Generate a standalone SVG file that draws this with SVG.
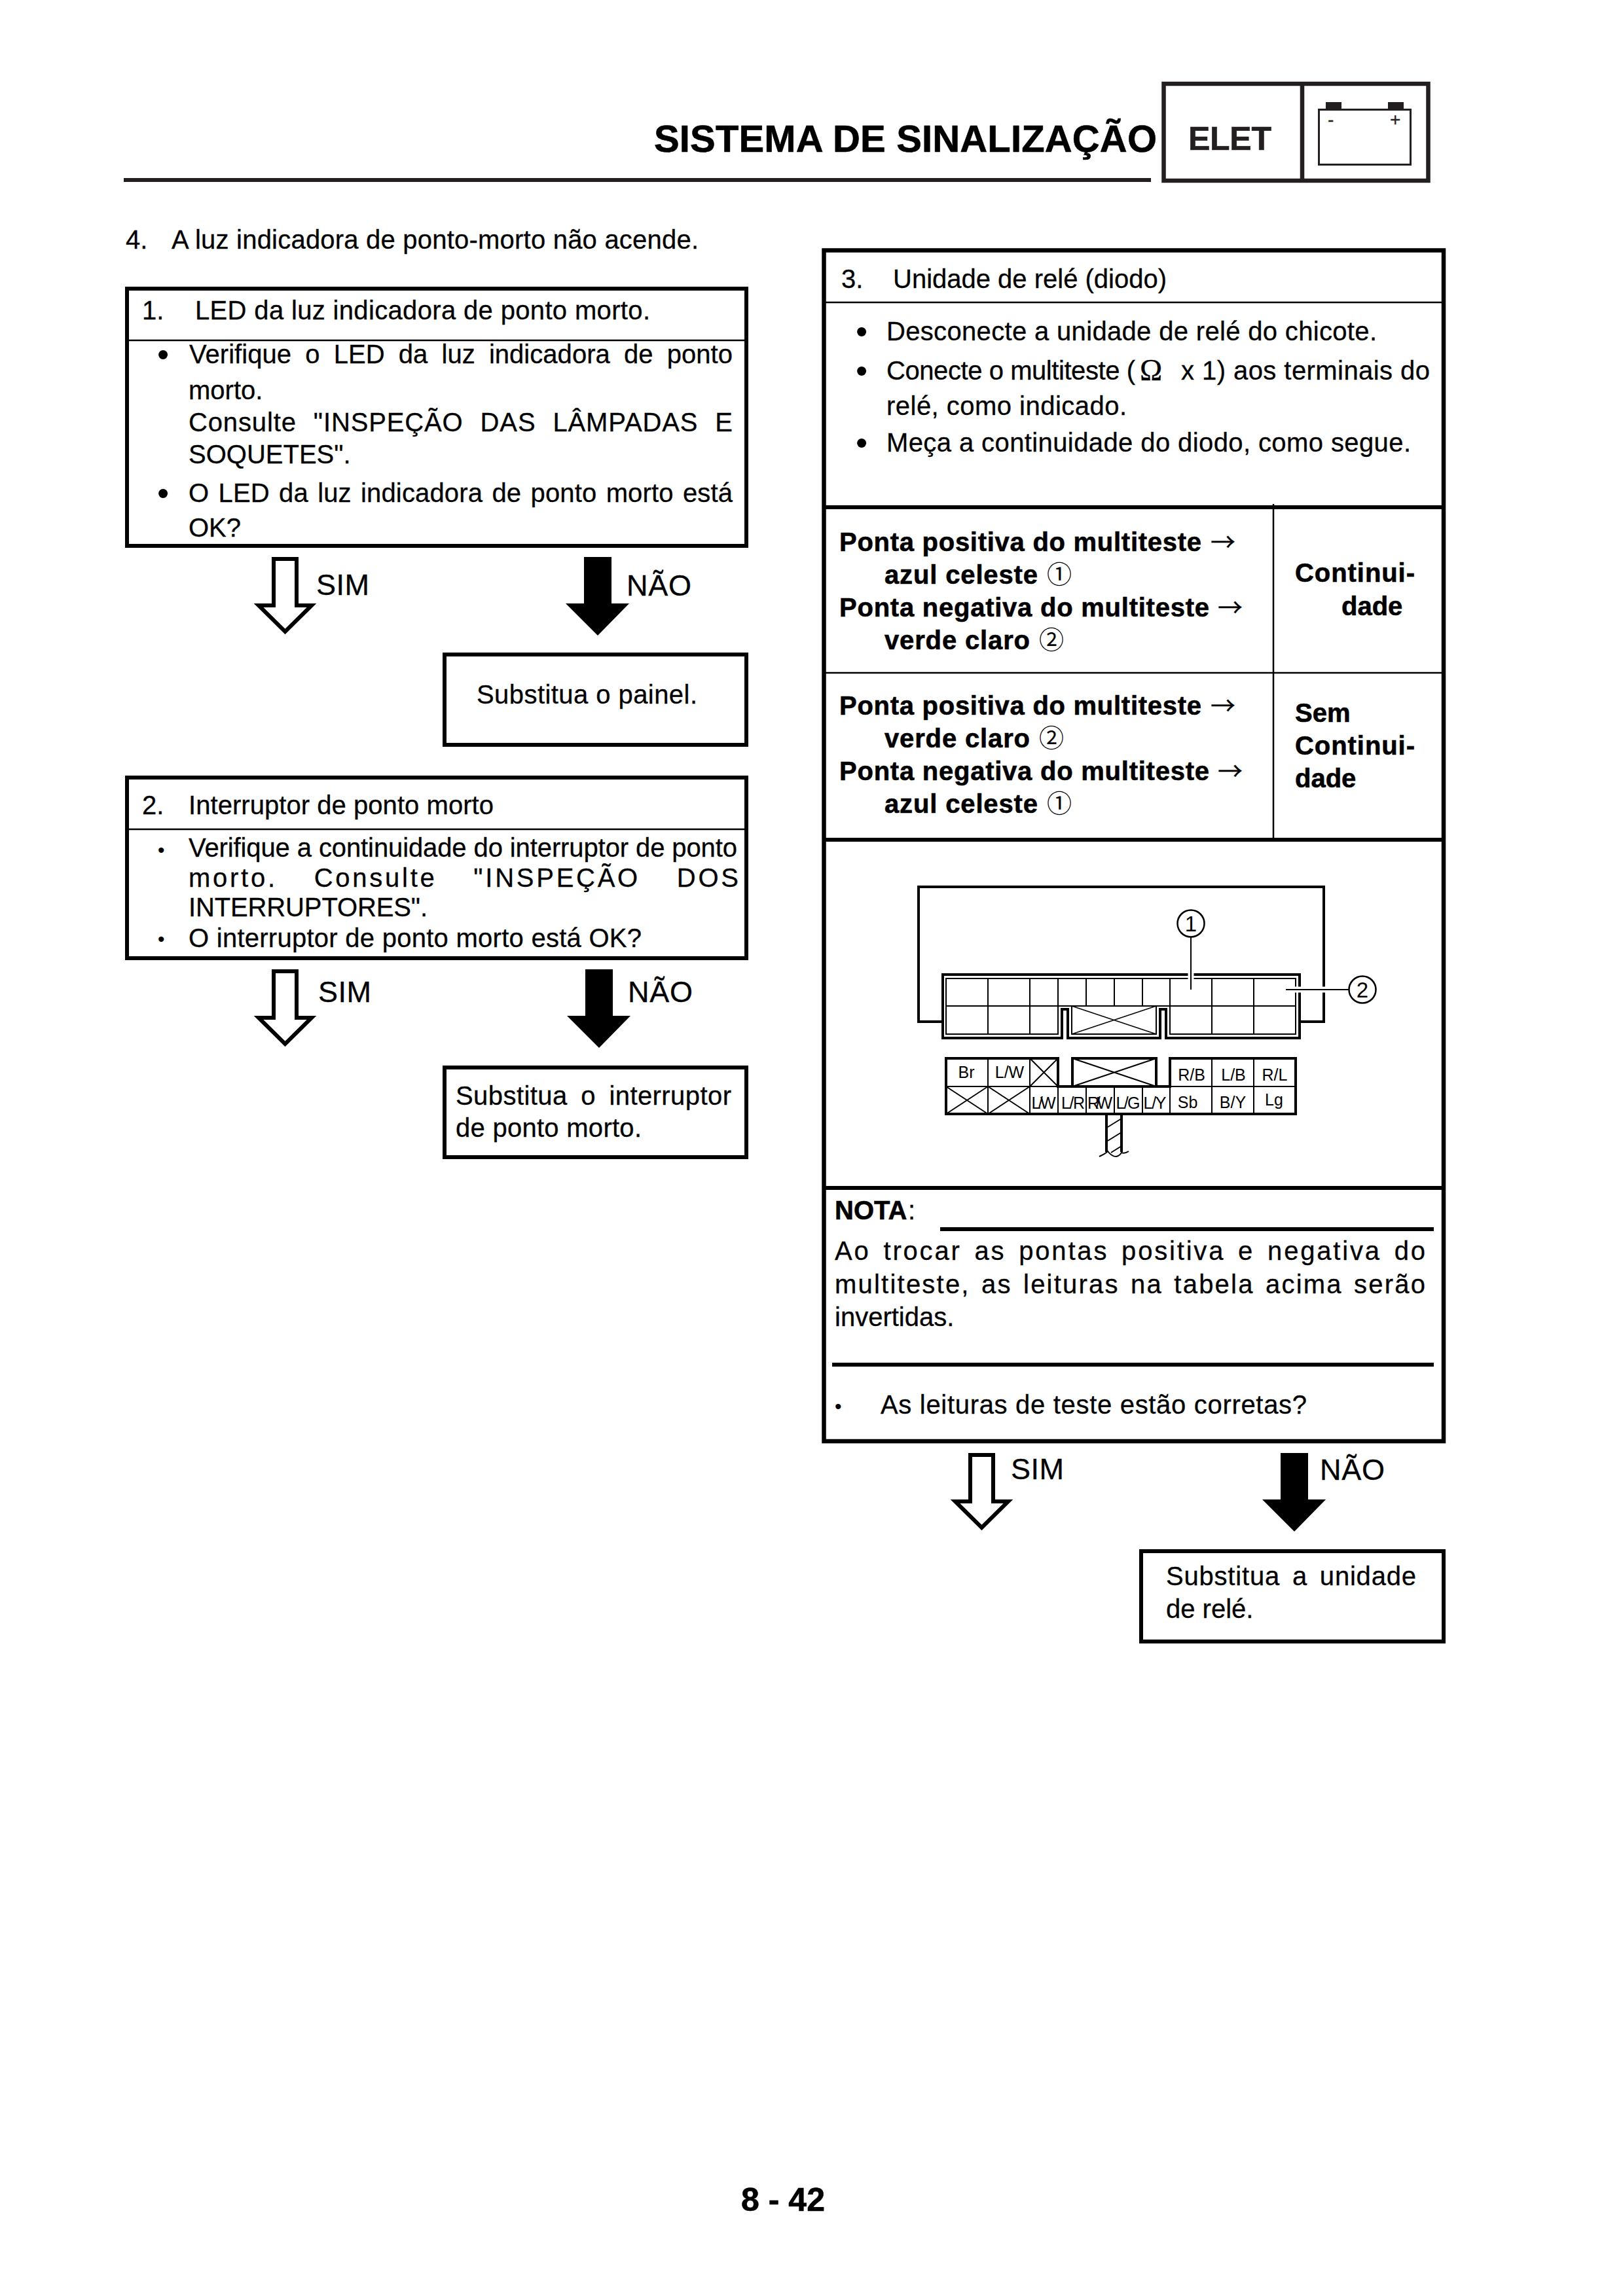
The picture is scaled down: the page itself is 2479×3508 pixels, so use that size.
<svg xmlns="http://www.w3.org/2000/svg" width="2479" height="3508" viewBox="0 0 2479 3508">
<style>
text{font-family:"Liberation Sans",Arial,sans-serif;font-size:40px;fill:#000;stroke:#000;stroke-width:.3}
.b{font-weight:bold;stroke-width:.6}
.lab{font-size:45px}
.bu{font-size:52px;stroke-width:0}
.bs{font-size:30px;stroke-width:0}
.c{font-family:"Noto Sans CJK JP","DejaVu Sans",sans-serif;font-size:38px;stroke-width:0}
.ar{font-family:"Noto Sans CJK JP","DejaVu Sans",sans-serif;font-size:38px;stroke-width:.3}
.t{font-size:25px;text-anchor:middle;stroke-width:0}
.n{font-size:33px;text-anchor:middle;stroke-width:0}
.box{fill:#fff;stroke:#000;stroke-width:6}
.thin{fill:none;stroke:#000;stroke-width:2.5}
.thick{fill:none;stroke:#000;stroke-width:6}
.d{fill:none;stroke:#000;stroke-width:2}
.d3{fill:none;stroke:#000;stroke-width:4}
.halo{fill:none;stroke:#fff;stroke-width:9}
.hd{fill:none;stroke:#231f20;stroke-width:6.5}
.yes{fill:#fff;stroke:#000;stroke-width:6}
.no{fill:#000}
</style>
<defs>
<path id="yesArrow" class="yes" d="M418 854H453V925H476L435.500 965L395 925H418Z"/>
<path id="noArrow" class="no" d="M892 851H934V922H961L913 971L864 922H892Z"/>
</defs>
<rect width="2479" height="3508" fill="#fff"/>
<g id="header">
<text class="b" x="999" y="232" style="font-size:58px" textLength="768">SISTEMA DE SINALIZAÇÃO</text>
<path d="M189 275H1758" stroke="#231f20" stroke-width="6" fill="none"/>
<rect class="hd" x="1777.500" y="128" width="404" height="148"/>
<path class="hd" d="M1989 128V276"/>
<text class="b" x="1815" y="229" style="font-size:50px;fill:#231f20;stroke:#231f20" textLength="127">ELET</text>
<rect x="2014.500" y="167.500" width="140" height="84" fill="none" stroke="#231f20" stroke-width="3"/>
<rect x="2025" y="156" width="24" height="10" fill="#231f20"/>
<rect x="2120" y="156" width="24" height="10" fill="#231f20"/>
<text x="2028" y="192" style="font-size:28px;fill:#231f20;stroke:#231f20">-</text>
<text x="2123" y="192" style="font-size:28px;fill:#231f20;stroke:#231f20">+</text>
</g>
<g id="intro">
<text x="192" y="380">4.</text>
<text x="262" y="380" textLength="805">A luz indicadora de ponto-morto não acende.</text>
</g>
<g id="connectors">
<use href="#yesArrow"/>
<use href="#noArrow"/>
<use href="#yesArrow" y="630"/>
<use href="#noArrow" x="2" y="630"/>
<use href="#yesArrow" x="1064" y="1369"/>
<use href="#noArrow" x="1064" y="1369"/>
</g>
<g id="labels">
<text class="lab" x="483" y="909" textLength="81">SIM</text>
<text class="lab" x="957" y="910" textLength="99">NÃO</text>
<text class="lab" x="486" y="1531" textLength="81">SIM</text>
<text class="lab" x="959" y="1531" textLength="99">NÃO</text>
<text class="lab" x="1544" y="2260" textLength="81">SIM</text>
<text class="lab" x="2016" y="2261" textLength="99">NÃO</text>
</g>
<g id="step1">
<rect class="box" x="194" y="441" width="946" height="393"/>
<path class="thin" d="M194 520H1140"/>
<text x="217" y="488">1.</text>
<text x="298" y="488" textLength="695">LED da luz indicadora de ponto morto.</text>
<text class="bu" x="240" y="559">•</text>
<text x="289" y="555" word-spacing="10" textLength="830">Verifique o LED da luz indicadora de ponto</text>
<text x="288" y="610">morto.</text>
<text x="288" y="659" word-spacing="14" textLength="831">Consulte "INSPEÇÃO DAS LÂMPADAS E</text>
<text x="288" y="708">SOQUETES".</text>
<text class="bu" x="240" y="771">•</text>
<text x="288" y="767" word-spacing="3" textLength="831">O LED da luz indicadora de ponto morto está</text>
<text x="288" y="820">OK?</text>
</g>
<g id="painel">
<rect class="box" x="679" y="1000" width="461" height="138"/>
<text x="728" y="1075" textLength="337">Substitua o painel.</text>
</g>
<g id="step2">
<rect class="box" x="194" y="1188" width="946" height="276"/>
<path class="thin" d="M194 1267H1140"/>
<text x="217" y="1244">2.</text>
<text x="288" y="1244" textLength="466">Interruptor de ponto morto</text>
<text class="bs" x="241" y="1309">•</text>
<text x="288" y="1309" textLength="838">Verifique a continuidade do interruptor de ponto</text>
<text x="288" y="1355" word-spacing="41" textLength="840">morto. Consulte "INSPEÇÃO DOS</text>
<text x="288" y="1400" textLength="365">INTERRUPTORES".</text>
<text class="bs" x="241" y="1445">•</text>
<text x="288" y="1447" textLength="692">O interruptor de ponto morto está OK?</text>
</g>
<g id="interruptor">
<rect class="box" x="679" y="1631" width="461" height="137"/>
<text x="696" y="1688" word-spacing="9" textLength="421">Substitua o interruptor</text>
<text x="696" y="1737" textLength="284">de ponto morto.</text>
</g>
<g id="step3">
<rect class="box" x="1258.500" y="382.500" width="946.500" height="1819.500" style="stroke-width:6.500"/>
<path class="thin" d="M1258 462H2205M1258 1028H2205M1945 770V1283"/>
<path class="thick" d="M1258 775H2205M1258 1283H2205M1258 1815H2205"/>
<text x="1285" y="440">3.</text>
<text x="1364" y="440" textLength="418">Unidade de relé (diodo)</text>
<text class="bu" x="1307" y="524">•</text>
<text x="1354" y="520" textLength="749">Desconecte a unidade de relé do chicote.</text>
<text class="bu" x="1307" y="584">•</text>
<text x="1354" y="580" textLength="380">Conecte o multiteste (</text>
<text x="1741" y="581" style="font-family:'Liberation Serif',serif;font-size:46px">Ω</text>
<text x="1804" y="580" textLength="380">x 1) aos terminais do</text>
<text x="1354" y="634" textLength="367">relé, como indicado.</text>
<text class="bu" x="1307" y="694">•</text>
<text x="1354" y="690" textLength="801">Meça a continuidade do diodo, como segue.</text>
<text class="b" x="1282" y="842" textLength="553">Ponta positiva do multiteste</text>
<text class="ar" x="1849" y="842">→</text>
<text class="b" x="1351" y="892" textLength="234">azul celeste</text><text class="c" x="1599" y="891">①</text>
<text class="b" x="1282" y="942" textLength="565">Ponta negativa do multiteste</text>
<text class="ar" x="1860" y="942">→</text>
<text class="b" x="1351" y="992" textLength="222">verde claro</text><text class="c" x="1587" y="991">②</text>
<text class="b" x="1282" y="1092" textLength="553">Ponta positiva do multiteste</text>
<text class="ar" x="1849" y="1092">→</text>
<text class="b" x="1351" y="1142" textLength="222">verde claro</text><text class="c" x="1587" y="1141">②</text>
<text class="b" x="1282" y="1192" textLength="565">Ponta negativa do multiteste</text>
<text class="ar" x="1860" y="1192">→</text>
<text class="b" x="1351" y="1242" textLength="234">azul celeste</text><text class="c" x="1599" y="1241">①</text>
<text class="b" x="1978" y="889" textLength="183">Continui-</text>
<text class="b" x="2049" y="940">dade</text>
<text class="b" x="1978" y="1103">Sem</text>
<text class="b" x="1978" y="1153" textLength="183">Continui-</text>
<text class="b" x="1978" y="1203">dade</text>
<text class="b" x="1275" y="1863">NOTA</text><text x="1387" y="1863">:</text>
<path class="thick" d="M1436 1878H2190M1271 2085H2190"/>
<text x="1275" y="1925" word-spacing="6" textLength="902">Ao trocar as pontas positiva e negativa do</text>
<text x="1275" y="1976" word-spacing="4" textLength="902">multiteste, as leituras na tabela acima serão</text>
<text x="1275" y="2026">invertidas.</text>
<text class="bs" x="1275" y="2159">•</text>
<text x="1345" y="2160" textLength="651">As leituras de teste estão corretas?</text>
</g>
<g id="unidade">
<rect class="box" x="1743" y="2370" width="462" height="138"/>
<text x="1781" y="2422" word-spacing="7" textLength="382">Substitua a unidade</text>
<text x="1781" y="2472">de relé.</text>
</g>
<g id="relay">
<path class="d3" d="M1440 1561H1403V1355H2022V1561H1985"/>
<path class="d3" d="M1622 1586H1440V1489H1985V1586H1781V1542H1772V1586H1631V1542H1622Z"/>
<path class="d" d="M1445 1495H1979V1580H1787V1537H1616V1580H1445Z"/>
<path class="d" d="M1637 1537V1580H1766V1537"/>
<path class="d" d="M1445 1537H1979M1509 1495V1580M1573 1495V1580M1616 1495V1537M1659 1495V1537M1702 1495V1537M1745 1495V1537M1787 1495V1537M1851 1495V1580M1915 1495V1580"/>
<path class="d" style="stroke-width:1.500" d="M1637 1537L1766 1580M1766 1537L1637 1580"/>
<path class="halo" d="M1819 1434V1505M1971 1512H2058"/>
<path class="d" d="M1819 1432V1512M1964 1512H2060"/>
<circle class="d" cx="1819" cy="1411" r="20.500" style="stroke-width:2.500"/>
<circle class="d" cx="2081" cy="1512" r="20.500" style="stroke-width:2.500"/>
<text class="n" x="1819" y="1423">1</text>
<text class="n" x="2081" y="1524">2</text>
<path class="d3" d="M1445 1617H1616V1660H1787V1617H1979V1702H1445ZM1638 1660V1617H1766V1660"/>
<path class="d" d="M1445 1660H1979M1509 1617V1702M1573 1617V1702M1616 1660V1702M1659 1660V1702M1702 1660V1702M1745 1660V1702M1787 1660V1702M1851 1617V1702M1915 1617V1702"/>
<path class="d" d="M1638 1617L1766 1660M1766 1617L1638 1660M1573 1617L1616 1660M1616 1617L1573 1660M1445 1660L1509 1702M1509 1660L1445 1702M1509 1660L1573 1702M1573 1660L1509 1702"/>
<text class="t" x="1476" y="1647">Br</text><text class="t" x="1542" y="1647">L/W</text>
<text class="t" x="1820" y="1651">R/B</text><text class="t" x="1884" y="1651">L/B</text><text class="t" x="1947" y="1651">R/L</text>
<text class="t" x="1594" y="1694" textLength="37">L/W</text><text class="t" x="1639" y="1694" textLength="36">L/R</text><text class="t" x="1680" y="1694" textLength="38">R/W</text><text class="t" x="1723" y="1694" textLength="37">L/G</text><text class="t" x="1764" y="1694" textLength="35">L/Y</text>
<text class="t" x="1814" y="1693">Sb</text><text class="t" x="1883" y="1693">B/Y</text><text class="t" x="1946" y="1689">Lg</text>
<path class="d3" d="M1690 1702V1760M1713 1702V1760"/>
<path class="d" d="M1692 1722L1713 1709M1692 1743L1713 1730M1697 1761L1713 1751M1679 1767Q1688 1763 1692 1759Q1698 1767 1705 1767Q1710 1766 1713 1761Q1718 1763 1724 1759"/>
</g>
<g id="footer">
<text class="b" x="1132" y="3378" style="font-size:50px" textLength="128">8 - 42</text>
</g>
</svg>
